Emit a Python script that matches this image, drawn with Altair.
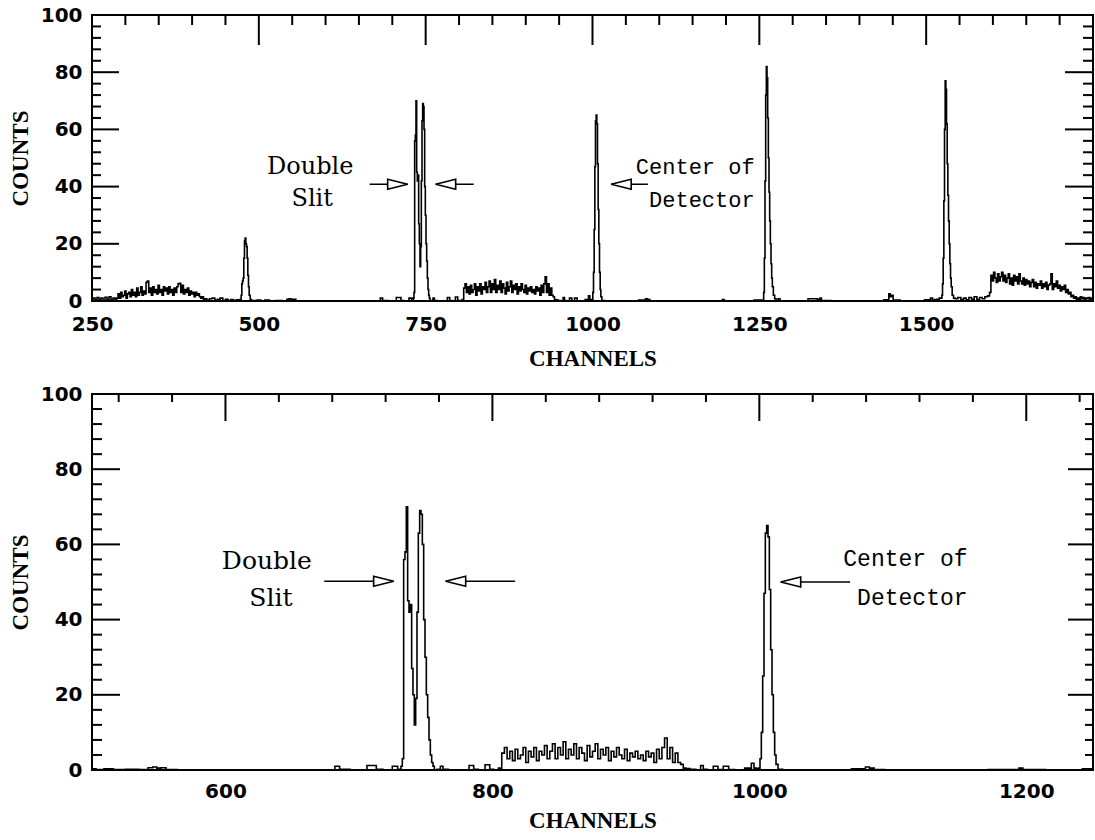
import altair as alt
import pandas as pd

# ---------------- spectrum (channel / counts) ----------------
base_a_ch = [250, 253, 256, 259, 262, 265, 268, 271, 274, 277, 280, 283]
base_a_ct = [0.5, 1.0, 0.3, 1.2, 0.4, 1.0, 0.2, 1.3, 0.5, 1.5, 0.4, 1.0]

noise1_start = 286  # every 2 channels
noise1_ct = [0.5, 1, 2.5, 1, 3, 1.5, 2, 3.5, 1, 2.5, 3, 1.5, 4, 2, 3, 1.5, 4.5, 2, 3, 5,
             2, 3.5, 2.5, 6.5, 7, 3, 4.5, 2, 5, 3, 4, 2.5, 5.5, 3, 4, 2, 5, 3.5, 4.5, 2.5,
             5, 3, 4, 2, 4.5, 3, 5, 6, 6.2, 3, 5.5, 2.5, 4, 3, 4.5, 2, 3.5, 2.5, 3, 1.5,
             3, 2, 2.5, 1.5, 1, 1.5, 0.5, 0.8]

base_b_ch = [424, 428, 432, 436, 440, 444, 448, 452, 456, 460, 464, 468, 471]
base_b_ct = [0.3, 0.8, 1.0, 0.3, 0.6, 1.0, 0.2, 0.6, 0.2, 0.5, 0.2, 0.4, 0.3]

peak480_ch = [473, 474, 475, 476, 477, 478, 479, 480, 481, 482, 483, 484, 485, 486, 488, 490]
peak480_ct = [0.5, 2, 6, 7, 8, 15, 21, 22, 20, 19, 15, 9, 5, 2, 0.5, 0.2]

base_c_ch = [495, 500, 506, 512, 520, 530, 540, 544, 547, 550, 553, 558, 570, 600, 640, 680,
             684, 687, 700, 712, 714, 722, 728, 730]
base_c_ct = [0.2, 0.3, 0.1, 0.3, 0.1, 0.2, 0.1, 0.6, 0.8, 0.5, 0.6, 0.1, 0, 0, 0, 0,
             1.0, 0.2, 0, 1.2, 0.2, 0, 1.0, 0.2]

double_ch = [731, 732, 733, 734, 735, 736, 737, 738, 739, 740, 741, 742, 743, 744, 745, 746,
             747, 748, 749, 750, 751, 752, 753, 754, 755, 756, 757]
double_ct = [0, 1, 3, 56, 58, 70, 45, 42, 44, 27, 20, 12, 19, 42, 63, 69,
             68, 60, 40, 30, 20, 14, 8, 4, 2, 1, 0]

base_d_ch = [760, 762, 764, 770, 780, 785, 787, 792, 797, 799, 803, 806]
base_d_ct = [0.2, 1.0, 0.2, 0, 0, 1.2, 0.2, 0, 1.4, 0.2, 0, 0.5]

noise2_start = 808  # every 2 channels
noise2_ct = [4.5, 6, 3, 5, 2.5, 5.5, 3, 4, 6, 2, 5, 3.5, 6, 2.5, 5, 4, 6.5, 3, 5, 7,
             3, 6, 4, 7.5, 3, 5.5, 4, 7, 3, 6, 4.5, 2.5, 6.5, 3.5, 5, 7, 3, 5.5, 4, 6,
             2.5, 5, 3.5, 6, 4, 3, 5.5, 2.5, 4.5, 3.5, 5, 3, 4, 2.5, 5, 3.5, 4.5, 2, 5.5, 3,
             6, 8.5, 3, 6, 2, 4.5, 2, 1.5, 0.5]

base_e_ch = [946, 950, 955, 957, 959, 963, 968, 970, 976, 978, 985, 993, 995, 997, 999]
base_e_ct = [0.4, 0.2, 0, 1.2, 0.2, 0, 1.0, 0.1, 1.0, 0.1, 0, 0.5, 1.8, 0.5, 0.3]

center_ch = [1000, 1001, 1002, 1003, 1004, 1005, 1006, 1007, 1008, 1009, 1010, 1011, 1012, 1013, 1015]
center_ct = [0.5, 3, 10, 25, 47, 63, 65, 62, 48, 32, 20, 10, 4, 1.5, 0.2]

base_f_ch = [1020, 1040, 1060, 1078, 1081, 1084, 1088, 1100, 1150, 1193, 1196, 1199, 1230, 1254]
base_f_ct = [0, 0, 0, 0.3, 0.8, 0.5, 0.1, 0, 0, 0.1, 0.5, 0.1, 0, 0.3]

peak1262_ch = [1256, 1257, 1258, 1259, 1260, 1261, 1262, 1263, 1264, 1265, 1266, 1267, 1268,
               1269, 1270, 1272, 1274, 1276]
peak1262_ct = [0.3, 3, 15, 42, 72, 82, 78, 64, 50, 38, 28, 20, 13, 8, 5, 2, 0.8, 0]

base_g_ch = [1280, 1282, 1290, 1310, 1336, 1338, 1340, 1342, 1344, 1370, 1400, 1430, 1443,
             1445, 1447, 1449, 1452, 1470, 1490, 1505, 1508, 1511, 1514, 1518, 1521]
base_g_ct = [0.8, 0, 0, 0, 0.8, 0.2, 0.6, 1.0, 0.2, 0, 0, 0, 0.4,
             2.5, 1.5, 2.0, 0.3, 0, 0, 0.4, 1.0, 0.3, 0.5, 0.6, 1.0]

peak1530_ch = [1523, 1524, 1525, 1526, 1527, 1528, 1529, 1530, 1531, 1532, 1533, 1534, 1535,
               1536, 1537, 1538, 1540, 1542]
peak1530_ct = [1, 2, 6, 15, 35, 60, 77, 74, 62, 48, 37, 28, 20, 13, 8, 5, 2, 1]

base_h_ch = [1545, 1550, 1554, 1558, 1562, 1566, 1570, 1574, 1578, 1582, 1586, 1590, 1594, 1596]
base_h_ct = [0.8, 1.2, 0.5, 1.0, 0.4, 1.2, 0.6, 1.5, 0.5, 1.2, 0.8, 1.5, 1.8, 3]

noise3_start = 1598  # every 2 channels
noise3_ct = [9, 7, 10, 8, 6.5, 9.5, 7, 8.5, 10, 7, 9, 6.5, 8, 9.5, 6, 8, 5.5, 9, 7, 8.5,
             6, 9.5, 7, 6, 8, 5.5, 7.5, 6, 7, 5, 6.5, 7.5, 5, 6.5, 4.5, 6, 5.5, 7, 4.5, 6,
             5, 6.5, 4, 5.5, 6, 9.5, 4, 6, 5, 7, 4.5, 5.5, 3.5, 5, 4, 5.5, 3, 4, 2.5, 3,
             1.5, 2, 1, 1.5, 0.5, 1, 0.5, 1.5, 0.8, 1.2, 0.5, 1, 0.8, 1.2, 0.6, 1, 0.8]

# ---------------- axes / ticks ----------------
y_labels = [0, 20, 40, 60, 80, 100]
y_major = [20, 40, 60, 80]
y_minor = [4, 8, 12, 16, 24, 28, 32, 36, 44, 48, 52, 56, 64, 68, 72, 76, 84, 88, 92, 96]

top_domain = [250, 1750]
top_labels = [250, 500, 750, 1000, 1250, 1500]
top_major = [500, 750, 1000, 1250, 1500]
top_minor = [300, 350, 400, 450, 550, 600, 650, 700, 800, 850, 900, 950, 1050, 1100,
             1150, 1200, 1300, 1350, 1400, 1450, 1550, 1600, 1650, 1700]

bot_domain = [500, 1250]
bot_labels = [600, 800, 1000, 1200]
bot_major = [600, 800, 1000, 1200]
bot_minor = [520, 560, 640, 680, 720, 760, 840, 880, 920, 960, 1040, 1080, 1120, 1160, 1240]

# ---------------- annotations ----------------
top_slit_text = ["Double", "Slit"]
top_slit_x = [577, 580]
top_slit_y = [46.8, 35.7]
top_det_text = ["Center of", "Detector"]
top_det_x = [1243, 1243]
top_det_y = [47, 35.3]
top_arrow_tail = [666, 822, 1083]
top_arrow_tip = [723, 765, 1028]
top_arrow_y = [40.8, 40.8, 40.8]
top_arrow_dir = ["r", "l", "l"]

bot_slit_text = ["Double", "Slit"]
bot_slit_x = [631, 634]
bot_slit_y = [55.6, 45.8]
bot_det_text = ["Center of", "Detector"]
bot_det_x = [1156, 1156]
bot_det_y = [56, 45.7]
bot_arrow_tail = [674, 817, 1068]
bot_arrow_tip = [726, 765, 1016]
bot_arrow_y = [50.2, 50.2, 50]
bot_arrow_dir = ["r", "l", "l"]

# ---------------- build spectrum table ----------------
chs, cts = [], []
def add(c, v):
    chs.extend(c)
    cts.extend(v)

def add_grid(start, vals, stop):
    c = [start + 2 * i for i in range(len(vals))]
    pairs = [(a, b) for a, b in zip(c, vals) if a <= stop]
    chs.extend([p[0] for p in pairs])
    cts.extend([p[1] for p in pairs])

add(base_a_ch, base_a_ct)
add_grid(noise1_start, noise1_ct, 420)
add(base_b_ch, base_b_ct)
add(peak480_ch, peak480_ct)
add(base_c_ch, base_c_ct)
add(double_ch, double_ct)
add(base_d_ch, base_d_ct)
add_grid(noise2_start, noise2_ct, 944)
add(base_e_ch, base_e_ct)
add(center_ch, center_ct)
add(base_f_ch, base_f_ct)
add(peak1262_ch, peak1262_ct)
add(base_g_ch, base_g_ct)
add(peak1530_ch, peak1530_ct)
add(base_h_ch, base_h_ct)
add_grid(noise3_start, noise3_ct, 1750)

spec = pd.DataFrame({"channel": chs, "counts": cts}).sort_values("channel")

ARROW_R = "M0,0L-4,-1L-4,1Z"
ARROW_L = "M0,0L4,-1L4,1Z"


def panel(domain, w, h, xlabels, xmaj, xmin_, lab_pad, title_pad, ymaj_len, ymin_len,
          rmaj_len, rmin_len, xmaj_len, xmin_len,
          slit_text, slit_x, slit_y, slit_size,
          det_text, det_x, det_y, det_size,
          a_tail, a_tip, a_y, a_dir):
    xs = alt.Scale(domain=domain, nice=False, zero=False)
    ys = alt.Scale(domain=[0, 100], nice=False, zero=False)
    x_axis = alt.Axis(values=xlabels, title="CHANNELS", labelPadding=lab_pad,
                      titlePadding=title_pad, format="d", labelFlush=False)
    y_axis = alt.Axis(values=y_labels, title="COUNTS", labelPadding=10,
                      titlePadding=8, format="d", labelFlush=False)

    def X(f):
        return alt.X(f, scale=xs, axis=x_axis)

    def Y(f):
        return alt.Y(f, scale=ys, axis=y_axis)

    line = alt.Chart(spec).mark_line(color="black", strokeWidth=1.6, clip=True,
                                     interpolate="step").encode(
        x=X("channel:Q"), y=Y("counts:Q"))

    def xticks(vals, length):
        return alt.Chart(pd.DataFrame({"v": vals})).mark_rule(color="black", strokeWidth=2).encode(
            x=X("v:Q"), y=alt.value(0), y2=alt.value(length))

    def lticks(vals, length):
        return alt.Chart(pd.DataFrame({"v": vals})).mark_rule(color="black", strokeWidth=2).encode(
            y=Y("v:Q"), x=alt.value(0), x2=alt.value(length))

    def rticks(vals, length):
        return alt.Chart(pd.DataFrame({"v": vals})).mark_rule(color="black", strokeWidth=2).encode(
            y=Y("v:Q"), x=alt.value(w), x2=alt.value(w - length))

    slit = alt.Chart(pd.DataFrame({"x": slit_x, "y": slit_y, "t": slit_text})).mark_text(
        font="DejaVu Serif", fontSize=slit_size, align="center", baseline="middle", color="black"
    ).encode(x=X("x:Q"), y=Y("y:Q"), text="t:N")

    det = alt.Chart(pd.DataFrame({"x": det_x, "y": det_y, "t": det_text})).mark_text(
        font="Liberation Mono", fontSize=det_size, align="right", baseline="middle", color="black"
    ).encode(x=X("x:Q"), y=Y("y:Q"), text="t:N")

    arr_df = pd.DataFrame({"tail": a_tail, "tip": a_tip, "y": a_y, "d": a_dir})
    shafts = alt.Chart(arr_df).mark_rule(color="black", strokeWidth=1.6).encode(
        x=X("tail:Q"), x2="tip:Q", y=Y("y:Q"))
    heads = alt.Chart(arr_df).mark_point(filled=True, fill="white", stroke="black",
                                         strokeWidth=1.6, size=100, opacity=1).encode(
        x=X("tip:Q"), y=Y("y:Q"),
        shape=alt.Shape("d:N", scale=alt.Scale(domain=["r", "l"], range=[ARROW_R, ARROW_L]),
                        legend=None))

    return alt.layer(
        line,
        xticks(xmaj, xmaj_len), xticks(xmin_, xmin_len),
        lticks(y_major, ymaj_len), lticks(y_minor, ymin_len),
        rticks(y_major, rmaj_len), rticks(y_minor, rmin_len),
        slit, det, shafts, heads,
    ).properties(width=w, height=h)


top = panel(top_domain, 1001, 286, top_labels, top_major, top_minor, 13, 13, 27, 9, 28, 10, 30, 10,
            top_slit_text, top_slit_x, top_slit_y, 24,
            top_det_text, top_det_x, top_det_y, 22,
            top_arrow_tail, top_arrow_tip, top_arrow_y, top_arrow_dir)
bottom = panel(bot_domain, 1001, 376, bot_labels, bot_major, bot_minor, 11, 8, 28, 10, 25, 8, 27, 8,
               bot_slit_text, bot_slit_x, bot_slit_y, 25,
               bot_det_text, bot_det_x, bot_det_y, 23,
               bot_arrow_tail, bot_arrow_tip, bot_arrow_y, bot_arrow_dir)

chart = alt.vconcat(top, bottom, spacing=12).properties(
    padding={"left": 8, "top": 4, "right": 0, "bottom": 0}, background="white"
).configure_view(stroke="black", strokeWidth=2).configure_axis(
    grid=False, ticks=False, domain=False,
    labelFont="DejaVu Sans", labelFontSize=20, labelFontWeight="bold", labelColor="black",
    titleFont="Liberation Serif", titleFontSize=23, titleFontWeight="bold", titleColor="black",
)

chart.save("out.html", embed_options={"renderer": "svg", "actions": False})
